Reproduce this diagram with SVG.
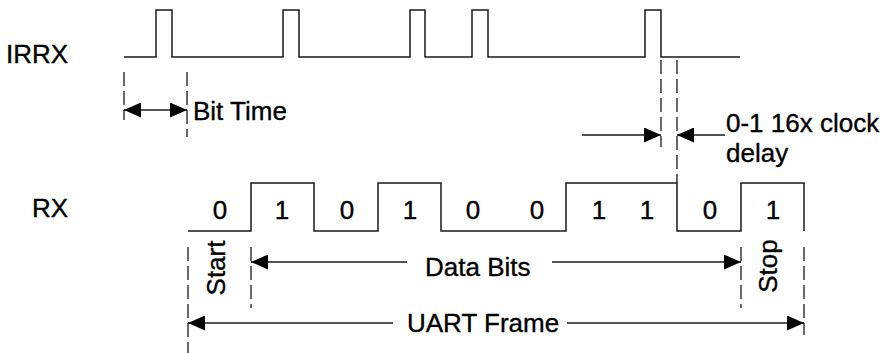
<svg xmlns="http://www.w3.org/2000/svg" width="885" height="353" viewBox="0 0 885 353">
  <style>
    .wave { fill: none; stroke: #1a1a1a; stroke-width: 1.5; }
    .dash { fill: none; stroke: #1a1a1a; stroke-width: 1.3; stroke-dasharray: 14 5; }
    .arr { fill: none; stroke: #1a1a1a; stroke-width: 1.5; }
    .lbl { font-family: "Liberation Sans", Arial, sans-serif; font-size: 26px; fill: #000; stroke: #000; stroke-width: 0.35; }
    .mid { text-anchor: middle; }
  </style>
  <defs>
    <marker id="ah" viewBox="0 0 17 15" refX="17" refY="7.5" markerWidth="17" markerHeight="15" markerUnits="userSpaceOnUse" orient="auto-start-reverse">
      <path d="M0,0 L17,7.5 L0,15 z" fill="#000"/>
    </marker>
  </defs>

  <g id="irrx">
    <text class="lbl" x="6" y="63">IRRX</text>
    <path class="wave" d="M124,57 H156 V10 H172 V57 H283 V10 H299 V57 H410 V10 H425 V57 H472 V10 H488 V57 H645 V10 H661 V57 H740"/>
  </g>

  <g id="rx">
    <text class="lbl" x="32" y="217">RX</text>
    <path class="wave" d="M188,231 H251 V183 H314 V231 H378 V183 H441 V231 H566 V183 H677 V231 H741 V183 H804 V231"/>
    <g id="bits" class="lbl mid">
      <text x="220" y="219">0</text>
      <text x="282" y="219">1</text>
      <text x="347" y="219">0</text>
      <text x="410" y="219">1</text>
      <text x="473" y="219">0</text>
      <text x="537" y="219">0</text>
      <text x="599" y="219">1</text>
      <text x="647" y="219">1</text>
      <text x="710" y="219">0</text>
      <text x="773" y="219">1</text>
    </g>
  </g>

  <g id="guides">
    <line class="dash" x1="124" y1="72" x2="124" y2="120"/>
    <line class="dash" x1="187" y1="72" x2="187" y2="137"/>
    <line class="dash" x1="661" y1="60" x2="661" y2="147"/>
    <line class="dash" x1="677" y1="60" x2="677" y2="183"/>
    <line class="dash" x1="188" y1="247" x2="188" y2="353"/>
    <line class="dash" x1="251" y1="247" x2="251" y2="308"/>
    <line class="dash" x1="741" y1="247" x2="741" y2="308"/>
    <line class="dash" x1="804" y1="247" x2="804" y2="335"/>
  </g>

  <g id="connectors">
    <line class="arr" x1="124" y1="110" x2="187" y2="110" marker-start="url(#ah)" marker-end="url(#ah)"/>
    <line class="arr" x1="582" y1="135" x2="661" y2="135" marker-end="url(#ah)"/>
    <line class="arr" x1="725" y1="135" x2="677" y2="135" marker-end="url(#ah)"/>
    <line class="arr" x1="407" y1="262" x2="251" y2="262" marker-end="url(#ah)"/>
    <line class="arr" x1="552" y1="262" x2="741" y2="262" marker-end="url(#ah)"/>
    <line class="arr" x1="393" y1="323" x2="188" y2="323" marker-end="url(#ah)"/>
    <line class="arr" x1="567" y1="323" x2="804" y2="323" marker-end="url(#ah)"/>
  </g>

  <g id="labels" class="lbl">
    <text x="193" y="120">Bit Time</text>
    <text x="726" y="132">0-1 16x clock</text>
    <text x="726" y="162">delay</text>
    <text x="425" y="276">Data Bits</text>
    <text x="407" y="332">UART Frame</text>
    <text class="mid" transform="translate(225,268) rotate(-90)">Start</text>
    <text class="mid" transform="translate(777,266) rotate(-90)">Stop</text>
  </g>
</svg>
